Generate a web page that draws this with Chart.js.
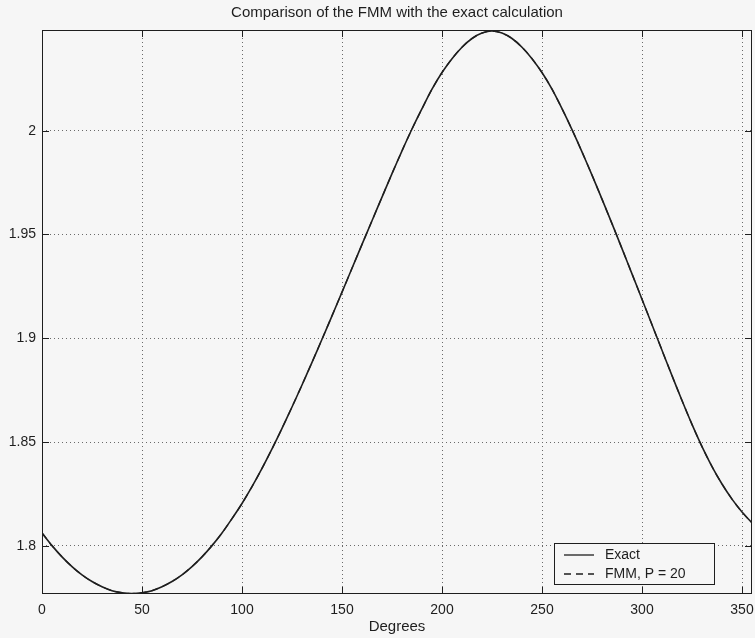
<!DOCTYPE html>
<html>
<head>
<meta charset="utf-8">
<script src="https://cdn.jsdelivr.net/npm/chart.js@4.4.1/dist/chart.umd.min.js"></script>
<style>
  html, body { margin: 0; padding: 0; background: #f6f6f6; }
  #wrap { width: 755px; height: 638px; position: relative; }
</style>
</head>
<body>
<div id="wrap"><canvas id="chart"></canvas></div>
<script>
// ── DATA ──
const degrees = [
  0, 5, 10, 15, 20, 25, 30, 35, 40, 45, 50, 55, 60, 65, 70, 75, 80, 85,
  90, 95, 100, 105, 110, 115, 120, 125, 130, 135, 140, 145, 150, 155, 160, 165,
  170, 175, 180, 185, 190, 195, 200, 205, 210, 215, 220, 225, 230, 235, 240, 245,
  250, 255, 260, 265, 270, 275, 280, 285, 290, 295, 300, 305, 310, 315, 320, 325,
  330, 335, 340, 345, 350, 355
];
const exactValues = [
  1.8062, 1.8001, 1.7947, 1.7900, 1.7860, 1.7828, 1.7803, 1.7784, 1.7774, 1.7770,
  1.7774, 1.7784, 1.7803, 1.7828, 1.7860, 1.7900, 1.7947, 1.8001, 1.8062, 1.8131,
  1.8204, 1.8285, 1.8373, 1.8467, 1.8566, 1.8669, 1.8775, 1.8884, 1.8995, 1.9108,
  1.9222, 1.9337, 1.9452, 1.9566, 1.9680, 1.9793, 1.9903, 2.0008, 2.0106, 2.0200,
  2.0280, 2.0347, 2.0402, 2.0444, 2.0470, 2.0480, 2.0470, 2.0444, 2.0402, 2.0347,
  2.0280, 2.0200, 2.0106, 2.0005, 1.9898, 1.9786, 1.9670, 1.9552, 1.9432, 1.9310,
  1.9188, 1.9065, 1.8942, 1.8820, 1.8700, 1.8585, 1.8478, 1.8382, 1.8298, 1.8225,
  1.8163, 1.8110
];
// the FMM curve lies exactly on top of the exact one in the picture
const fmmValues = exactValues;

const xTicks = [0, 50, 100, 150, 200, 250, 300, 350];
const yTicks = [1.8, 1.85, 1.9, 1.95, 2];
const seriesLabels = ['Exact', 'FMM, P = 20'];

const FONT = '"Liberation Sans", Arial, Helvetica, sans-serif';
const INK = '#1e1e1e';

// ── FRAME, INWARD TICKS, LEGEND (matlab style) ──
const matlabFrame = {
  id: 'matlabFrame',
  beforeDraw(chart) {
    const ctx = chart.ctx;
    ctx.save();
    ctx.fillStyle = '#f6f6f6';
    ctx.fillRect(0, 0, chart.width, chart.height);
    ctx.restore();
  },
  afterDatasetsDraw(chart) {
    const { ctx, chartArea: a, scales: { x, y } } = chart;
    ctx.save();
    ctx.strokeStyle = INK;
    ctx.lineWidth = 1;
    ctx.strokeRect(a.left + 0.5, a.top + 0.5, a.width - 1, a.height - 1);

    ctx.beginPath();
    x.ticks.forEach(t => {
      const px = Math.round(x.getPixelForValue(t.value)) + 0.5;
      ctx.moveTo(px, a.bottom); ctx.lineTo(px, a.bottom - 7);
      ctx.moveTo(px, a.top);    ctx.lineTo(px, a.top + 7);
    });
    y.ticks.forEach(t => {
      const py = Math.round(y.getPixelForValue(t.value)) + 0.5;
      ctx.moveTo(a.left, py);  ctx.lineTo(a.left + 7, py);
      ctx.moveTo(a.right, py); ctx.lineTo(a.right - 7, py);
    });
    ctx.stroke();

    // legend box, bottom right inside the axes
    const bx = 554, by = 543, bw = 160, bh = 41;
    ctx.fillStyle = '#f6f6f6';
    ctx.fillRect(bx, by, bw, bh);
    ctx.strokeRect(bx + 0.5, by + 0.5, bw, bh);
    ctx.font = '14px ' + FONT;
    ctx.textBaseline = 'middle';
    ctx.fillStyle = INK;
    chart.data.datasets.forEach((ds, i) => {
      const ly = by + 12 + i * 19;
      ctx.beginPath();
      ctx.setLineDash(ds.borderDash || []);
      ctx.lineWidth = 1.3;
      ctx.moveTo(564, ly); ctx.lineTo(594, ly);
      ctx.stroke();
      ctx.setLineDash([]);
      ctx.fillText(ds.label, 605, ly);
    });
    ctx.restore();
  }
};

// ── CHART ──
const toPoints = vals => degrees.map((d, i) => ({ x: d, y: vals[i] }));

new Chart(document.getElementById('chart').getContext('2d'), {
  type: 'line',
  data: {
    datasets: [
      {
        label: seriesLabels[0],
        data: toPoints(exactValues),
        borderColor: INK, borderWidth: 1.6,
        pointRadius: 0, tension: 0.3,
      },
      {
        label: seriesLabels[1],
        data: toPoints(fmmValues),
        borderColor: INK, borderWidth: 1.3, borderDash: [7, 5],
        pointRadius: 0, tension: 0.3,
      }
    ]
  },
  options: {
    responsive: true, maintainAspectRatio: false,
    animation: false,
    layout: { padding: { top: 0, right: 3, left: 0, bottom: 0 } },
    plugins: {
      legend: { display: false },
      tooltip: { enabled: false },
      title: {
        display: true,
        fullSize: false,
        text: 'Comparison of the FMM with the exact calculation',
        color: INK,
        font: { family: FONT, size: 15, weight: 'normal' },
        padding: { top: 4, bottom: 8 }
      }
    },
    scales: {
      x: {
        type: 'linear', min: 0, max: 355,
        afterBuildTicks: s => { s.ticks = xTicks.map(v => ({ value: v })); },
        afterFit: s => { s.height = 44; s.paddingLeft = 0; s.paddingRight = 0; },
        grid: { color: '#6a6a6a', lineWidth: 1, drawTicks: false },
        border: { display: false, dash: [1, 3] },
        ticks: { color: INK, padding: 8, maxRotation: 0, font: { family: FONT, size: 14 },
                 callback: v => String(v) },
        title: { display: true, text: 'Degrees', color: INK,
                 font: { family: FONT, size: 15 }, padding: { top: 0, bottom: 2 } }
      },
      y: {
        type: 'linear', min: 1.7768, max: 2.0485,
        afterBuildTicks: s => { s.ticks = yTicks.map(v => ({ value: v })); },
        afterFit: s => { s.width = 42; s.paddingTop = 0; s.paddingBottom = 0; },
        grid: { color: '#6a6a6a', lineWidth: 1, drawTicks: false },
        border: { display: false, dash: [1, 3] },
        ticks: { color: INK, padding: 6, font: { family: FONT, size: 14 },
                 callback: v => String(v) }
      }
    }
  },
  plugins: [matlabFrame]
});
</script>
</body>
</html>
